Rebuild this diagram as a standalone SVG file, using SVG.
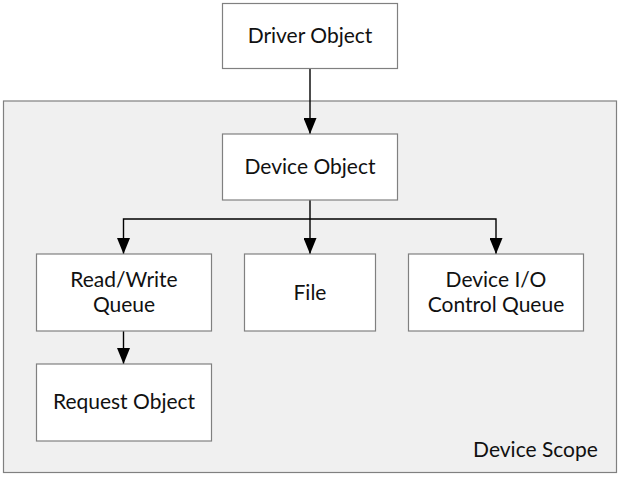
<svg xmlns="http://www.w3.org/2000/svg" width="621" height="477" viewBox="0 0 621 477">
  <style>
    .box { fill: #ffffff; stroke: #808080; stroke-width: 1.2; }
    .scope { fill: #f0f0f0; stroke: #808080; stroke-width: 1.2; }
    .lbl { font-family: Lato, "Open Sans", "DejaVu Sans", sans-serif; font-size: 21px; fill: #111111; text-anchor: middle; }
    .edge { fill: none; stroke: #000000; stroke-width: 1.4; }
  </style>
  <defs>
    <marker id="arrow" markerWidth="16" markerHeight="13" refX="16" refY="6.5" viewBox="0 0 16 13" orient="auto" markerUnits="userSpaceOnUse">
      <path d="M0,0 L16,6.5 L0,13 Z" fill="#000000"/>
    </marker>
  </defs>

  <rect width="621" height="477" fill="#ffffff"/>

  <!-- device scope container -->
  <g id="device-scope">
    <rect class="scope" x="3.5" y="101" width="613" height="371.5"/>
    <text class="lbl" x="535.5" y="456.5">Device Scope</text>
  </g>

  <!-- connectors -->
  <g id="connectors">
    <path class="edge" d="M310,69 L310,134" marker-end="url(#arrow)"/>
    <path class="edge" d="M310,200 L310,254" marker-end="url(#arrow)"/>
    <path class="edge" d="M310,219 L123.5,219 L123.5,254" marker-end="url(#arrow)"/>
    <path class="edge" d="M310,219 L496,219 L496,254" marker-end="url(#arrow)"/>
    <path class="edge" d="M123.5,331 L123.5,364" marker-end="url(#arrow)"/>
  </g>

  <g id="driver-object">
    <rect class="box" x="222.5" y="3.5" width="175" height="65"/>
    <text class="lbl" x="310" y="43">Driver Object</text>
  </g>

  <g id="device-object">
    <rect class="box" x="222.5" y="134" width="175" height="66"/>
    <text class="lbl" x="310" y="174">Device Object</text>
  </g>

  <g id="read-write-queue">
    <rect class="box" x="36.5" y="254" width="175" height="77"/>
    <text class="lbl" x="124" y="286.5">Read/Write</text>
    <text class="lbl" x="124" y="311.5">Queue</text>
  </g>

  <g id="file">
    <rect class="box" x="244.5" y="254" width="131" height="77"/>
    <text class="lbl" x="310" y="299.5">File</text>
  </g>

  <g id="device-io-control-queue">
    <rect class="box" x="408.5" y="254" width="175" height="77"/>
    <text class="lbl" x="496" y="286.5">Device I/O</text>
    <text class="lbl" x="496" y="311.5">Control Queue</text>
  </g>

  <g id="request-object">
    <rect class="box" x="36.5" y="364" width="175" height="77"/>
    <text class="lbl" x="124" y="409">Request Object</text>
  </g>
</svg>
